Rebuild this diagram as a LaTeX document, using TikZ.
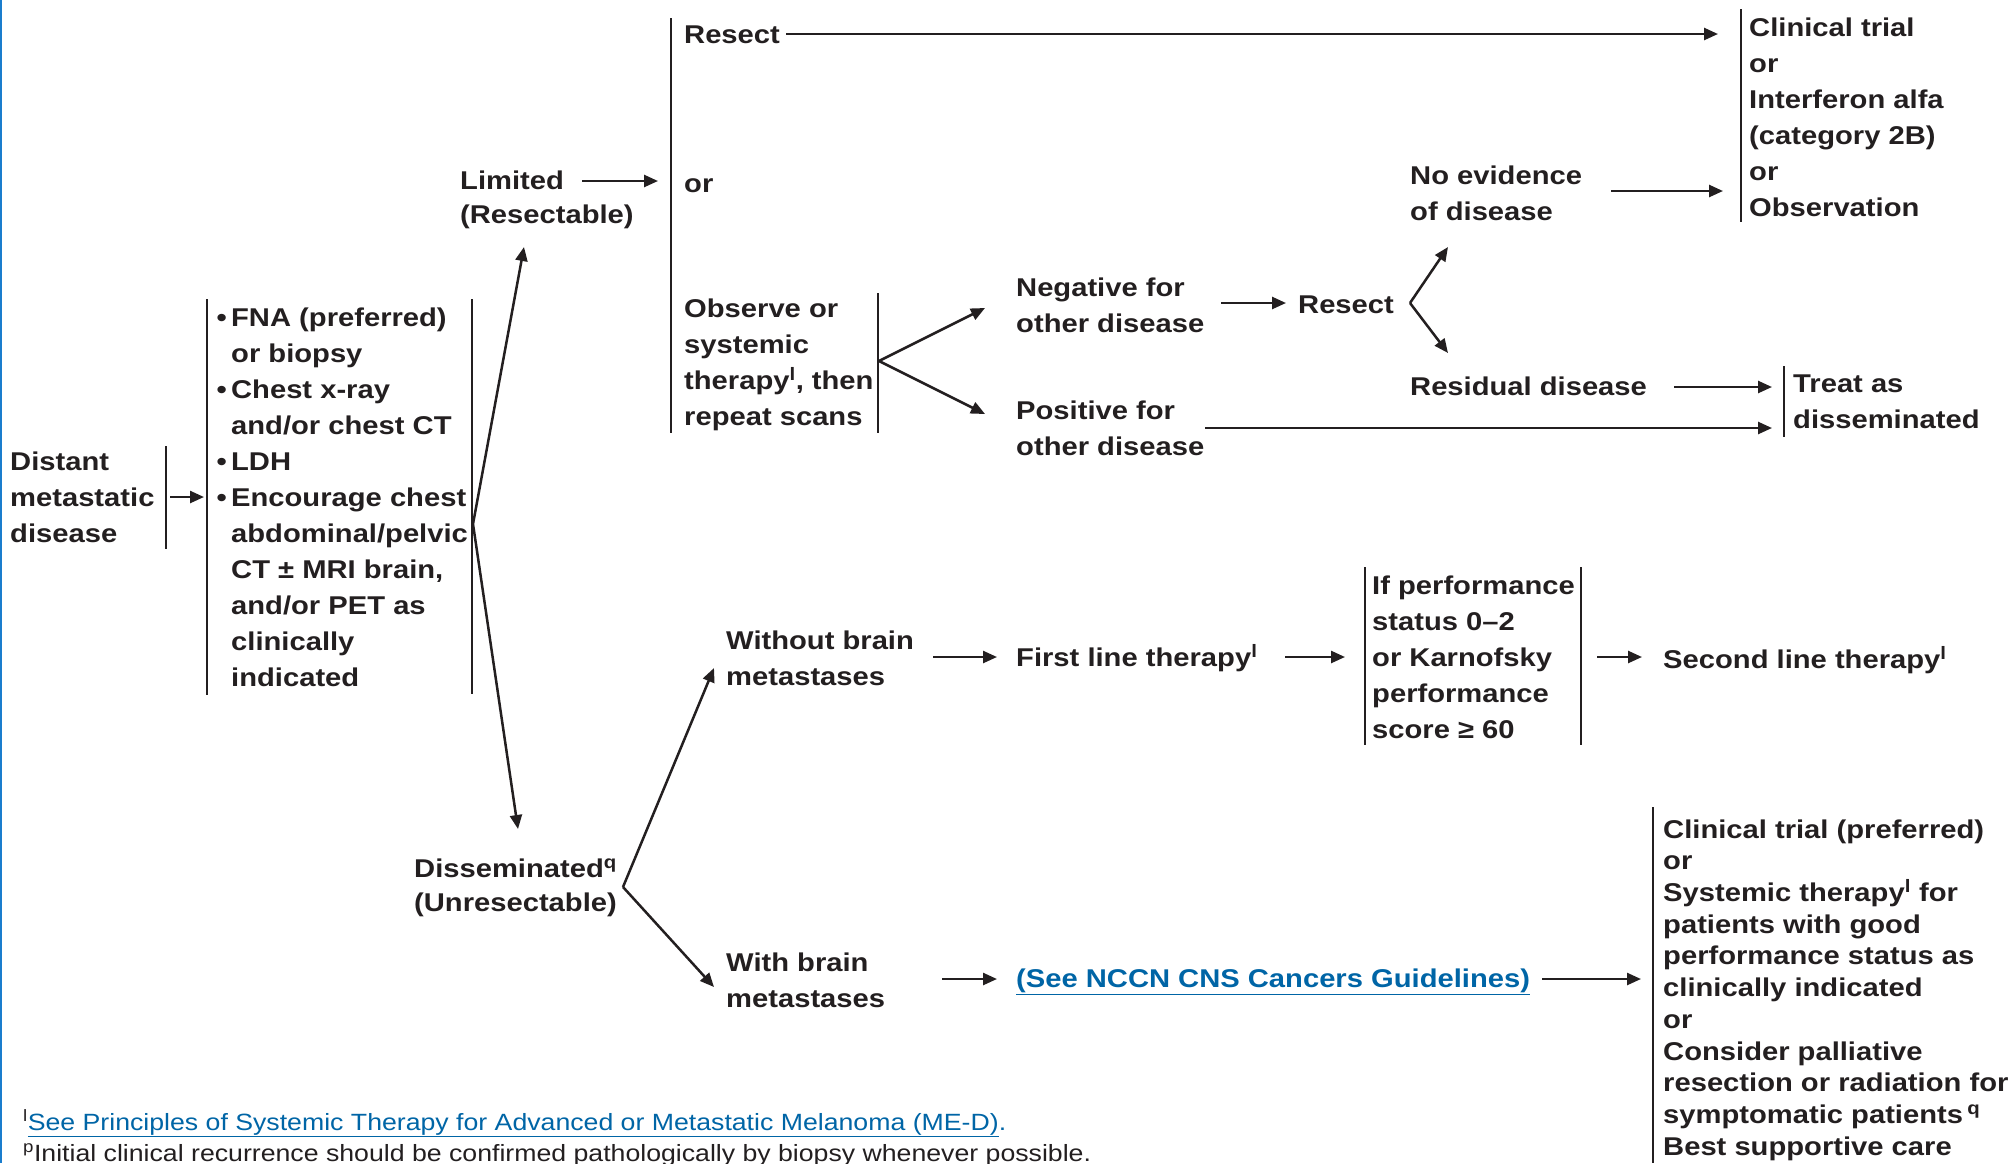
\documentclass[tikz,border=0pt]{standalone}
\usepackage{fontspec}
\setmainfont{Liberation Sans}[FakeStretch=1.135]
\usetikzlibrary{arrows.meta}
\definecolor{txt}{RGB}{35,31,32}
\definecolor{lnk}{RGB}{0,101,166}
\definecolor{edgeblue}{RGB}{26,125,205}
\tikzset{
  lbl/.style={anchor=west, align=left, inner sep=0pt, text=txt,
    font=\bfseries\fontsize{25.7}{36}\selectfont},
  lbltight/.style={lbl, font=\bfseries\fontsize{25.7}{31.7}\selectfont},
  foot/.style={anchor=west, align=left, inner sep=0pt, text=txt,
    font=\mdseries\fontsize{23.5}{30}\selectfont},
  arr/.style={draw=txt, line width=2.5pt, -{Triangle[length=14pt,width=12pt]}},
  bar/.style={draw=txt, line width=2.4pt},
}
\begin{document}
\begin{tikzpicture}[x=1pt,y=-1pt]
\useasboundingbox (0,0) rectangle (2015,1163);
\clip (0,0) rectangle (2015,1163);
\draw[edgeblue, line width=2.5pt] (1,0) -- (1,1163);

% ---------- nodes ----------
\node[lbl] (dist) at (10,497) {Distant\\metastatic\\disease};
\node[lbl] (tests) at (231,497) {\llap{\textbullet\,}FNA (preferred)\\or biopsy\\\llap{\textbullet\,}Chest x-ray\\and/or chest CT\\\llap{\textbullet\,}LDH\\\llap{\textbullet\,}Encourage chest\\abdominal/pelvic\\CT ± MRI brain,\\and/or PET as\\clinically\\indicated};
\node[lbl, font=\bfseries\fontsize{25.7}{34}\selectfont] (lim) at (460,200) {Limited\\(Resectable)};
\node[lbl, font=\bfseries\fontsize{25.7}{34}\selectfont] (diss) at (414,888) {Disseminated\textsuperscript{q}\\(Unresectable)};
\node[lbl] (res1) at (684,35) {Resect};
\node[lbl] (or1) at (684,186) {or};
\node[lbl] (obs) at (684,365) {Observe or\\systemic\\therapy\textsuperscript{l}, then\\repeat scans};
\node[lbl] (neg) at (1016,305) {Negative for\\other disease};
\node[lbl] (pos) at (1016,428) {Positive for\\other disease};
\node[lbl] (res2) at (1298,305) {Resect};
\node[lbl] (ned) at (1410,193) {No evidence\\of disease};
\node[lbl] (resid) at (1410,386) {Residual disease};
\node[lbl] (ct1) at (1749,117) {Clinical trial\\or\\Interferon alfa\\(category 2B)\\or\\Observation};
\node[lbl] (treat) at (1793,402) {Treat as\\disseminated};
\node[lbl] (wo) at (726,658) {Without brain\\metastases};
\node[lbl] (wi) at (726,980) {With brain\\metastases};
\node[lbl] (fl) at (1016,658) {First line therapy\textsuperscript{l}};
\node[lbl] (perf) at (1372,657) {If performance\\status 0–2\\or Karnofsky\\performance\\score ≥ 60};
\node[lbl] (sl) at (1663,660) {Second line therapy\textsuperscript{l}};
\node[lbl, text=lnk] (nccn) at (1016,982) {\underline{(See NCCN CNS Cancers Guidelines)}};
\node[lbltight] (final) at (1663,990) {Clinical trial (preferred)\\or\\Systemic therapy\textsuperscript{l} for\\patients with good\\performance status as\\clinically indicated\\or\\Consider palliative\\resection or radiation for\\symptomatic patients\,\textsuperscript{q}\\Best supportive care};
\node[foot] (fn1) at (23,1123) {\textsuperscript{l}\textcolor{lnk}{\underline{See Principles of Systemic Therapy for Advanced or Metastatic Melanoma (ME-D)}.}};
\node[foot] (fn2) at (23,1155) {\textsuperscript{p}Initial clinical recurrence should be confirmed pathologically by biopsy whenever possible.};

% ---------- bars ----------
\draw[bar] (166,446) -- (166,549);
\draw[bar] (207,299) -- (207,695);
\draw[bar] (472,299) -- (472,694);
\draw[bar] (671,18) -- (671,433);
\draw[bar] (878,293) -- (878,433);
\draw[bar] (1741,9) -- (1741,222);
\draw[bar] (1784,366) -- (1784,437);
\draw[bar] (1365,567) -- (1365,745);
\draw[bar] (1581,567) -- (1581,745);
\draw[bar] (1653,807) -- (1653,1163);

% ---------- connector coordinates ----------
\coordinate (distE) at (170,497);
\coordinate (testsW) at (204,497);
\coordinate (P) at (473,524);
\coordinate (limS) at (524,247);
\coordinate (dissN) at (518,829);
\coordinate (limE) at (582,181);
\coordinate (optW) at (658,181);
\coordinate (res1E) at (786,34);
\coordinate (ct1W) at (1718,34);
\coordinate (Q) at (879,361);
\coordinate (negW) at (985,308);
\coordinate (posW) at (985,414);
\coordinate (negE) at (1221,303);
\coordinate (res2W) at (1286,303);
\coordinate (R) at (1410,303);
\coordinate (nedS) at (1448,247);
\coordinate (residN) at (1448,353);
\coordinate (nedE) at (1611,191);
\coordinate (ct1Wb) at (1723,191);
\coordinate (residE) at (1674,387);
\coordinate (treatW) at (1772,387);
\coordinate (posE) at (1205,428);
\coordinate (treatWb) at (1772,428);
\coordinate (S) at (623,887);
\coordinate (woW) at (714,668);
\coordinate (wiW) at (714,987);
\coordinate (woE) at (933,657);
\coordinate (flW) at (997,657);
\coordinate (flE) at (1285,657);
\coordinate (perfW) at (1345,657);
\coordinate (perfE) at (1597,657);
\coordinate (slW) at (1642,657);
\coordinate (wiE) at (942,979);
\coordinate (nccnW) at (997,979);
\coordinate (nccnE) at (1542,979);
\coordinate (finalW) at (1641,979);

% ---------- connectors ----------
\draw[arr] (distE) -- (testsW);
\draw[arr] (P) -- (limS);
\draw[arr] (P) -- (dissN);
\draw[arr] (limE) -- (optW);
\draw[arr] (res1E) -- (ct1W);
\draw[arr] (Q) -- (negW);
\draw[arr] (Q) -- (posW);
\draw[arr] (negE) -- (res2W);
\draw[arr] (R) -- (nedS);
\draw[arr] (R) -- (residN);
\draw[arr] (nedE) -- (ct1Wb);
\draw[arr] (residE) -- (treatW);
\draw[arr] (posE) -- (treatWb);
\draw[arr] (S) -- (woW);
\draw[arr] (S) -- (wiW);
\draw[arr] (woE) -- (flW);
\draw[arr] (flE) -- (perfW);
\draw[arr] (perfE) -- (slW);
\draw[arr] (wiE) -- (nccnW);
\draw[arr] (nccnE) -- (finalW);
\end{tikzpicture}
\end{document}
